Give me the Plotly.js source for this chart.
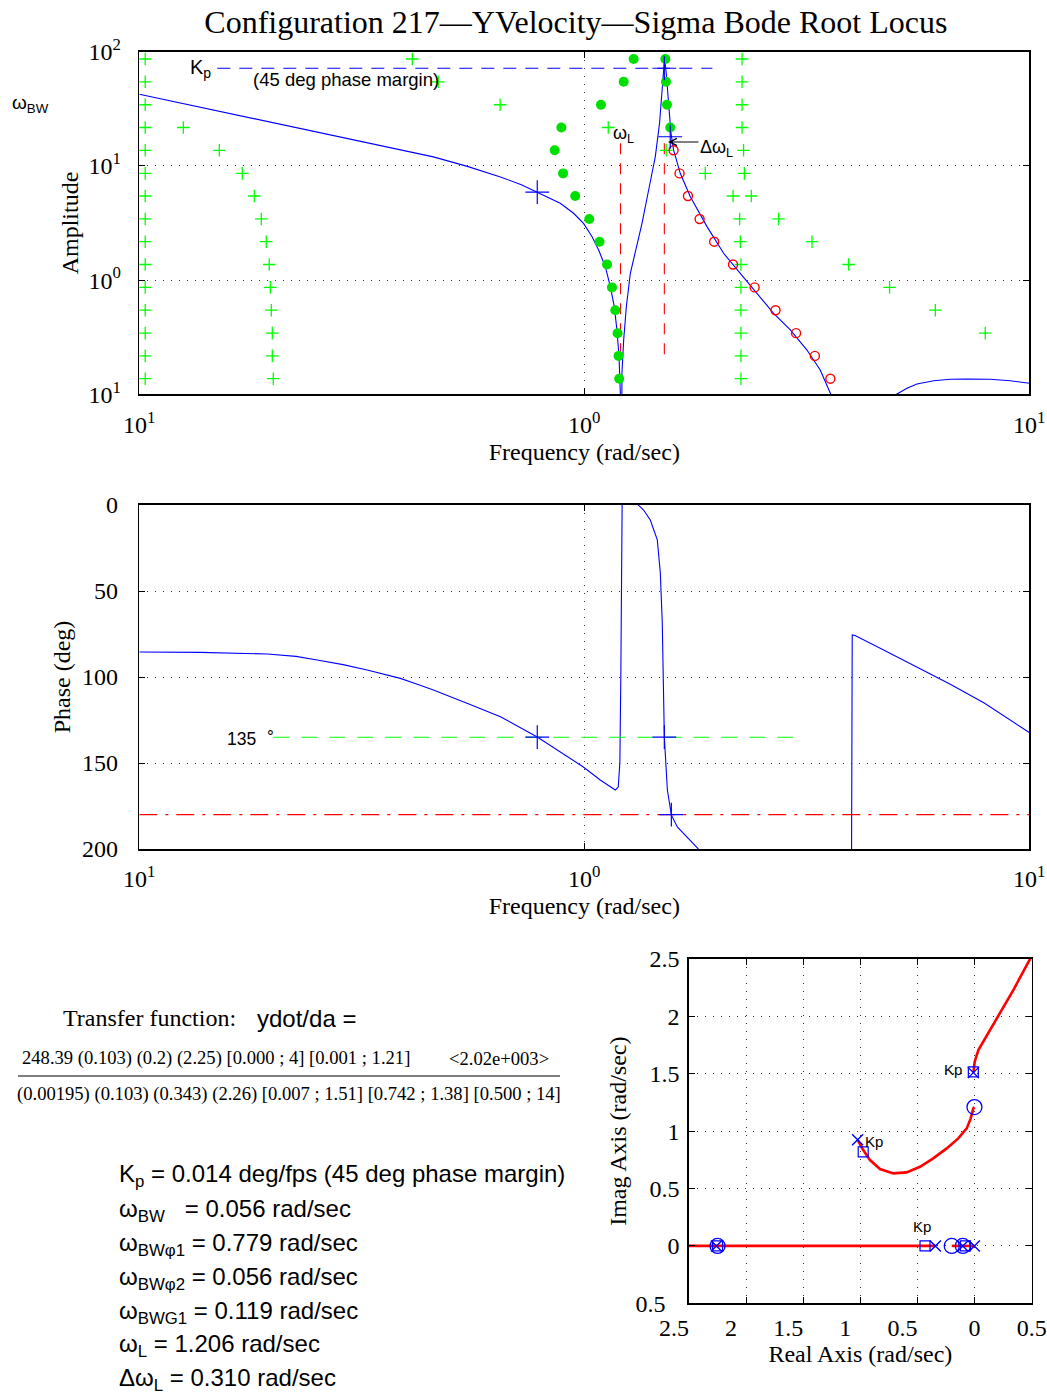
<!DOCTYPE html>
<html><head><meta charset="utf-8">
<script src="https://cdn.plot.ly/plotly-3.0.1.min.js"></script>
<style>html,body{margin:0;padding:0;background:#fff}#chart{width:1047px;height:1398px}</style>
</head><body><div id="chart"></div>
<script>
// ---------------- DATA ----------------
// Bode magnitude (rad/sec, amplitude)
const magFreq = [0.1, 0.137, 0.194, 0.298, 0.39, 0.458, 0.546, 0.648, 0.722, 0.796, 0.883, 0.946, 0.996, 1.041, 1.077, 1.115, 1.144, 1.168, 1.184, 1.197, 1.205, 1.21, 1.215, 1.226, 1.243, 1.269, 1.309, 1.348, 1.395, 1.444, 1.476, 1.497, 1.515, 1.528, 1.547, 1.566, 1.587, 1.643, 1.731, 1.887, 2.056, 2.242, 2.444, 2.663, 2.904, 3.165, 3.39, 3.572, 3.76, 4.0, 4.93, 5.0, 5.31, 5.59, 6.10, 6.645, 7.244, 8.17, 9.06, 10];
const magAmp = [42.4, 32.7, 24.5, 17.2, 13.9, 12.0, 9.9, 8.0, 6.85, 5.75, 4.71, 3.85, 3.14, 2.40, 1.835, 1.31, 0.876, 0.585, 0.366, 0.213, 0.102, 0.002, 0.153, 0.299, 0.585, 1.147, 1.961, 3.14, 6.15, 12.04, 23.6, 46.2, 88, 64.7, 33.0, 19.3, 13.8, 8.61, 5.37, 2.94, 1.717, 1.147, 0.766, 0.512, 0.366, 0.244, 0.163, 0.102, 0.06, 0.0001, 0.09, 0.0986, 0.113, 0.123, 0.1316, 0.1353, 0.1361, 0.1353, 0.1316, 0.1248];

// Bode phase (rad/sec, deg)
const phaseFreq = [0.1, 0.137, 0.194, 0.225, 0.251, 0.287, 0.325, 0.355, 0.386, 0.42, 0.458, 0.545, 0.648, 0.784, 0.916, 0.995, 1.086, 1.174, 1.192, 1.202, 1.208, 1.212, 1.214, 1.217, 1.269, 1.322, 1.359, 1.407, 1.459, 1.482, 1.497, 1.505, 1.513, 1.537, 1.569, 1.618, 1.704, 1.795, 1.87, 3.98, 4.0, 4.06, 4.706, 5.6, 6.645, 7.92, 10];
const phaseDeg = [85.5, 85.7, 86.6, 88.0, 90.1, 92.8, 95.9, 98.3, 100.8, 104.1, 107.6, 115.3, 123.1, 134.9, 146.5, 152.3, 159.9, 165.7, 164, 150, 100, 40, 0, -10, -25, 0, 2.9, 8.7, 20.3, 39.5, 68.6, 107.6, 134.9, 165.7, 180.2, 187.2, 193, 199.4, 205, 260, 75.6, 75.9, 84.3, 94.2, 104.2, 115.1, 132.3];

// gain levels (amplitude rows) for root-locus frequency markers
const gainLevels = [86.3, 54.5, 34.3, 21.7, 13.7, 8.6, 5.45, 3.43, 2.17, 1.37, 0.863, 0.545, 0.343, 0.217, 0.137];
const plusColA = [0.1031, 0.1031, 0.1031, 0.1031, 0.1031, 0.1031, 0.1031, 0.1031, 0.1031, 0.1031, 0.1031, 0.1031, 0.1031, 0.1031, 0.1031]; // rows 0-14
const plusLowF = [0.1256, 0.1513, 0.1704, 0.1813, 0.1880, 0.1929, 0.1959, 0.1970, 0.1980, 0.1990, 0.1990, 0.2000]; // rows 3-14
const plusUpF = [0.4107, 0.4697, 0.647, 1.132]; // rows 0-3
const plusZeroF = [1.528, 1.870, 2.159, 2.234, 2.242, 2.249, 2.249, 2.249, 2.249, 2.249, 2.249]; // rows 4-14
const plusPoleF = [2.262, 2.262, 2.262, 2.262, 2.280, 2.289, 2.373, 2.733, 3.249, 3.926, 4.853, 6.150, 7.962]; // rows 0-12
const dotsA = [1.291, 1.226, 1.090, 0.888, 0.858, 0.896, 0.954, 1.026, 1.082, 1.125, 1.154, 1.174, 1.188, 1.194, 1.198]; // rows 0-14
const dotsB = [1.521, 1.526, 1.534, 1.560]; // rows 0-3
const redCircF = [1.587, 1.637, 1.710, 1.816, 1.958, 2.159, 2.414, 2.690, 2.991, 3.297, 3.572]; // rows 4-14

const kpLineFreq = [0.1497, 1.94];
const kpLevel = 71.6;
const wL = 1.206, wL2 = 1.513;
const wLSpan = [15.8, 0.2];
const bluePlusFreq = [0.784, 1.513, 1.56];
const bluePlusAmp = [5.9, 71.6, 18.0];

const pm135Freq = [0.2, 3.0];
const phase135 = 135;
const phase180 = 180;
const phasePlusFreq = [0.784, 1.513, 1.569];
const phasePlusDeg = [135, 135, 180];

// root locus
const locusUpperRe = [-0.0106, 0.001, 0.033, 0.076, 0.135, 0.222, 0.339, 0.485, 0.5];
const locusUpperIm = [1.51, 1.605, 1.706, 1.779, 1.881, 2.026, 2.229, 2.499, 2.52];
const locusMidRe = [-1.024, -0.975, -0.916, -0.828, -0.712, -0.595, -0.478, -0.362, -0.244, -0.143, -0.069, -0.034, -0.011, -0.0012];
const locusMidIm = [0.925, 0.835, 0.748, 0.670, 0.632, 0.641, 0.690, 0.763, 0.850, 0.937, 1.024, 1.111, 1.199, 1.21];
const locusAxisA = [-2.6, -0.343];
const locusAxisB = [-0.2, -0.00195];
const poleRe = [-2.26, -0.343, -0.103, -0.00195, -1.024, -0.0106];
const poleIm = [0, 0, 0, 0, 0.925, 1.51];
const zeroRe = [-2.25, -0.2, -0.103, -0.0012];
const zeroIm = [0, 0, 0, 1.21];
const kpRe = [-2.25, -0.434, -0.08, -0.975, -0.011];
const kpIm = [0, 0, 0, 0.82, 1.517];

const freqTickVals = [0.1, 1, 10];
const freqTickText = ['10<sup>1</sup>', '10<sup>0</sup>', '10<sup>1</sup>'];
const ampTickVals = [0.1, 1, 10, 100];
const ampTickText = ['10<sup>1</sup>', '10<sup>0</sup>', '10<sup>1</sup>', '10<sup>2</sup>'];
const phaseTickVals = [0, 50, 100, 150, 200];
const rlXTicks = [-2.5, -2, -1.5, -1, -0.5, 0, 0.5];
const rlXText = ['2.5', '2', '1.5', '1', '0.5', '0', '0.5'];
const rlYTicks = [-0.5, 0, 0.5, 1, 1.5, 2, 2.5];
const rlYText = ['0.5', '0', '0.5', '1', '1.5', '2', '2.5'];

// ---------------- BUILD ----------------
const W = 1047, H = 1398;
const px = x => x / W, py = y => 1 - y / H;
const BLUE = '#0000ff', RED = '#ff0000', GREEN = '#00ff00', DOTG = '#00e000';
// negative labels keep the blank room of their (undrawn) minus sign
const padX = (t, v) => v < 0 ? t + '\u2003\u2005' : t;
const padY = (t, v) => v < 0 ? t + '\u2002\u200A' : t;

function rows(freqs, startRow) {
  return {x: freqs, y: freqs.map((_, i) => gainLevels[startRow + i])};
}
const pA = rows(plusColA, 0), pL = rows(plusLowF, 3), pU = rows(plusUpF, 0), pZ = rows(plusZeroF, 4), pP = rows(plusPoleF, 0);
const dA = rows(dotsA, 0), dB = rows(dotsB, 0), rC = rows(redCircF, 4);

const traces = [
  {x: magFreq, y: magAmp, xaxis: 'x', yaxis: 'y', mode: 'lines', line: {color: BLUE, width: 1.1}},
  {x: kpLineFreq, y: [kpLevel, kpLevel], xaxis: 'x', yaxis: 'y', mode: 'lines', line: {color: BLUE, width: 1.1, dash: '13px,9px'}},
  {x: [wL, wL, null, wL2, wL2], y: [wLSpan[0], wLSpan[1], null, wLSpan[0], wLSpan[1]], xaxis: 'x', yaxis: 'y', mode: 'lines', line: {color: RED, width: 1.1, dash: '11px,9px'}},
  {x: [].concat(pA.x, pL.x, pU.x, pZ.x, pP.x), y: [].concat(pA.y, pL.y, pU.y, pZ.y, pP.y), xaxis: 'x', yaxis: 'y', mode: 'markers',
   marker: {symbol: 'cross-thin', size: 9, color: GREEN, line: {color: GREEN, width: 1.3}}},
  {x: [].concat(dA.x, dB.x), y: [].concat(dA.y, dB.y), xaxis: 'x', yaxis: 'y', mode: 'markers',
   marker: {symbol: 'circle', size: 10, color: DOTG, line: {width: 0}}},
  {x: rC.x, y: rC.y, xaxis: 'x', yaxis: 'y', mode: 'markers',
   marker: {symbol: 'circle-open', size: 9, color: RED, line: {color: RED, width: 1.4}}},
  {x: bluePlusFreq, y: bluePlusAmp, xaxis: 'x', yaxis: 'y', mode: 'markers',
   marker: {symbol: 'cross-thin', size: 17, color: BLUE, line: {color: BLUE, width: 1.2}}},

  {x: phaseFreq, y: phaseDeg, xaxis: 'x2', yaxis: 'y2', mode: 'lines', line: {color: BLUE, width: 1.1}},
  {x: pm135Freq, y: [phase135, phase135], xaxis: 'x2', yaxis: 'y2', mode: 'lines', line: {color: GREEN, width: 1.1, dash: '16px,12px'}},
  {x: freqTickVals.filter((v, i) => i !== 1), y: [phase180, phase180], xaxis: 'x2', yaxis: 'y2', mode: 'lines', line: {color: RED, width: 1.1, dash: '18px,8px,3px,8px'}},
  {x: phasePlusFreq, y: phasePlusDeg, xaxis: 'x2', yaxis: 'y2', mode: 'markers',
   marker: {symbol: 'cross-thin', size: 17, color: BLUE, line: {color: BLUE, width: 1.2}}},

  {x: [].concat(locusUpperRe, [null], locusMidRe, [null], locusAxisA, [null], locusAxisB),
   y: [].concat(locusUpperIm, [null], locusMidIm, [null], [0, 0], [null], [0, 0]),
   xaxis: 'x3', yaxis: 'y3', mode: 'lines', line: {color: RED, width: 2.6}, connectgaps: false},
  {x: poleRe, y: poleIm, xaxis: 'x3', yaxis: 'y3', mode: 'markers', marker: {symbol: 'x-thin', size: 11, color: BLUE, line: {color: BLUE, width: 1.4}}},
  {x: zeroRe, y: zeroIm, xaxis: 'x3', yaxis: 'y3', mode: 'markers', marker: {symbol: 'circle-open', size: 15, color: BLUE, line: {color: BLUE, width: 1.3}}},
  {x: kpRe, y: kpIm, xaxis: 'x3', yaxis: 'y3', mode: 'markers', marker: {symbol: 'square-open', size: 10, color: BLUE, line: {color: BLUE, width: 1.2}}}
];

const SERIF = 'Liberation Serif', SANS = 'Liberation Sans';
const axBase = {
  showline: true, linecolor: '#000', linewidth: 1.6, mirror: 'ticks',
  ticks: 'inside', ticklen: 6, tickwidth: 1, tickcolor: '#000',
  showgrid: true, gridcolor: '#333', gridwidth: 1, griddash: '1px,7px',
  zeroline: false, fixedrange: true, automargin: false,
  tickfont: {family: SERIF, size: 24, color: '#000'}
};
function ax(o) { return Object.assign({}, axBase, o); }
const TF = {family: SERIF, size: 24, color: '#000'};

const ann = (text, x, y, o) => Object.assign({text: text, x: px(x), y: py(y), xref: 'paper', yref: 'paper', showarrow: false,
  xanchor: 'left', yanchor: 'middle', font: {family: SANS, size: 18, color: '#000'}}, o || {});

const annotations = [
  ann('K<sub>p</sub>', 188, 68, {font: {family: SANS, size: 20, color: '#000'}}),
  ann('(45 deg phase margin)', 346, 80, {xanchor: 'center', font: {family: SANS, size: 18.5, color: '#000'}}),
  ann('ω<sub>BW</sub>', 10, 104, {font: {family: SANS, size: 19, color: '#000'}}),
  ann('ω<sub>L</sub>', 611, 135, {font: {family: SANS, size: 18, color: '#000'}}),
  ann('Δω<sub>L</sub>', 698, 148, {font: {family: SANS, size: 18, color: '#000'}}),
  {text: '', x: px(668), y: py(142), xref: 'paper', yref: 'paper', showarrow: true, ax: 32, ay: 0, arrowhead: 5, arrowsize: 1.2, arrowwidth: 1.2, arrowcolor: '#000'},
  ann('135', 241, 739, {xanchor: 'center', font: {family: SANS, size: 17.5, color: '#000'}}),
  ann('°', 270, 736, {xanchor: 'center', font: {family: SANS, size: 17, color: '#000'}}),
  ann('Transfer function:', 61, 1018, {font: {family: SERIF, size: 24, color: '#000'}}),
  ann('ydot/da =', 255, 1018, {font: {family: SANS, size: 24, color: '#000'}}),
  ann('248.39 (0.103) (0.2) (2.25) [0.000 ; 4] [0.001 ; 1.21]', 20, 1058, {font: {family: SERIF, size: 18.6, color: '#000'}}),
  ann('&lt;2.02e+003&gt;', 447, 1058, {font: {family: SERIF, size: 18.6, color: '#000'}}),
  ann('(0.00195) (0.103) (0.343) (2.26) [0.007 ; 1.51] [0.742 ; 1.38] [0.500 ; 14]', 15, 1094, {font: {family: SERIF, size: 18.6, color: '#000'}}),
  ann('K<sub>p</sub> = 0.014 deg/fps (45 deg phase margin)', 117, 1175, {font: {family: SANS, size: 24, color: '#000'}}),
  ann('ω<sub>BW</sub>   = 0.056 rad/sec', 117, 1210, {font: {family: SANS, size: 24, color: '#000'}}),
  ann('ω<sub>BWφ1</sub> = 0.779 rad/sec', 117, 1244, {font: {family: SANS, size: 24, color: '#000'}}),
  ann('ω<sub>BWφ2</sub> = 0.056 rad/sec', 117, 1278, {font: {family: SANS, size: 24, color: '#000'}}),
  ann('ω<sub>BWG1</sub> = 0.119 rad/sec', 117, 1312, {font: {family: SANS, size: 24, color: '#000'}}),
  ann('ω<sub>L</sub> = 1.206 rad/sec', 117, 1345, {font: {family: SANS, size: 24, color: '#000'}}),
  ann('Δω<sub>L</sub> = 0.310 rad/sec', 117, 1379, {font: {family: SANS, size: 24, color: '#000'}}),
  ann('Kp', 953, 1069, {xanchor: 'center', font: {family: SANS, size: 15, color: '#000'}}),
  ann('Kp', 874, 1141, {xanchor: 'center', font: {family: SANS, size: 15, color: '#000'}}),
  ann('Kp', 922, 1226, {xanchor: 'center', font: {family: SANS, size: 15, color: '#000'}})
];

const layout = {
  width: W, height: H, margin: {l: 0, r: 0, t: 0, b: 0}, paper_bgcolor: '#fff', plot_bgcolor: '#fff',
  showlegend: false, font: {family: SERIF, size: 22, color: '#000'},
  title: {text: 'Configuration 217—YVelocity—Sigma Bode Root Locus', font: {family: SERIF, size: 32, color: '#000'},
          x: 0.55, xanchor: 'center', y: py(22), yanchor: 'middle'},
  xaxis: ax({domain: [px(139.3), px(1029.3)], anchor: 'y', type: 'log', range: [-1, 1], tickmode: 'array', tickvals: freqTickVals, ticktext: freqTickText,
    ticklabelstandoff: 8, title: {text: 'Frequency (rad/sec)', font: TF, standoff: 6}}),
  yaxis: ax({domain: [py(394.3), py(51.7)], anchor: 'x', type: 'log', range: [-1, 2], tickmode: 'array', tickvals: ampTickVals, ticktext: ampTickText,
    ticklabelstandoff: 12, title: {text: 'Amplitude', font: TF, standoff: 3}}),
  xaxis2: ax({domain: [px(139.3), px(1029.3)], anchor: 'y2', type: 'log', range: [-1, 1], tickmode: 'array', tickvals: freqTickVals, ticktext: freqTickText,
    ticklabelstandoff: 8, title: {text: 'Frequency (rad/sec)', font: TF, standoff: 6}}),
  yaxis2: ax({domain: [py(849), py(505)], anchor: 'x2', range: [200, 0], tickmode: 'array', tickvals: phaseTickVals,
    ticklabelstandoff: 15, title: {text: 'Phase (deg)', font: TF, standoff: 4}}),
  xaxis3: ax({domain: [px(689), px(1031.7)], anchor: 'y3', range: [-2.5, 0.5], tickmode: 'array', tickvals: rlXTicks, ticktext: rlXText.map((t, i) => padX(t, rlXTicks[i])),
    ticklabelstandoff: 2, title: {text: 'Real Axis (rad/sec)', font: TF, standoff: 4}}),
  yaxis3: ax({domain: [py(1303.3), py(959)], anchor: 'x3', range: [-0.5, 2.5], tickmode: 'array', tickvals: rlYTicks, ticktext: rlYText.map((t, i) => padY(t, rlYTicks[i])),
    ticklabelstandoff: 3, title: {text: 'Imag Axis (rad/sec)', font: TF, standoff: 2}}),
  annotations: annotations,
  shapes: [{type: 'line', xref: 'paper', yref: 'paper', x0: px(18), x1: px(560), y0: py(1076), y1: py(1076), line: {color: '#000', width: 1}}]
};

Plotly.newPlot('chart', traces, layout, {displayModeBar: false, staticPlot: true});
</script></body></html>
